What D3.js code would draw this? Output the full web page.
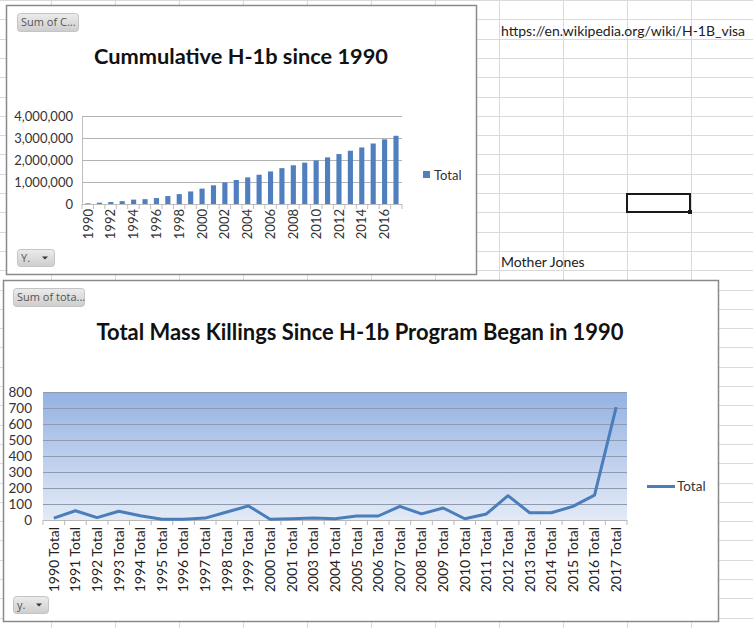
<!DOCTYPE html>
<html>
<head>
<meta charset="utf-8">
<script src="https://cdn.jsdelivr.net/npm/d3@7"></script>
<style>
  html, body { margin: 0; padding: 0; background: #fff; }
  svg { display: block; font-family: Lato, "Open Sans", sans-serif; }
</style>
</head>
<body>
<svg id="chart" width="753" height="628"></svg>
<script>
// ---------- DATA ----------
const h1bYears = [1990,1991,1992,1993,1994,1995,1996,1997,1998,1999,2000,2001,2002,2003,2004,2005,2006,2007,2008,2009,2010,2011,2012,2013,2014,2015,2016,2017];
const h1bCumulative = [30000,60000,90000,130000,200000,220000,270000,360000,450000,570000,700000,850000,980000,1090000,1210000,1330000,1480000,1630000,1760000,1880000,1980000,2120000,2270000,2420000,2570000,2750000,2940000,3100000];
const h1bTicks = [0,1000000,2000000,3000000,4000000];

const killYears = ["1990 Total","1991 Total","1992 Total","1993 Total","1994 Total","1995 Total","1996 Total","1997 Total","1998 Total","1999 Total","2000 Total","2001 Total","2003 Total","2004 Total","2005 Total","2006 Total","2007 Total","2008 Total","2009 Total","2010 Total","2011 Total","2012 Total","2013 Total","2014 Total","2015 Total","2016 Total","2017 Total"];
const killTotals = [12,58,15,55,27,5,5,12,50,88,5,8,12,8,25,25,85,38,75,8,38,152,45,45,85,155,705];
const killTicks = [0,100,200,300,400,500,600,700,800];

const titleTop = "Cummulative H-1b since 1990";
const titleBottom = "Total Mass Killings Since H-1b Program Began in 1990";
const seriesName = "Total";
const sheetUrl = "https://en.wikipedia.org/wiki/H-1B_visa";
const sheetNote = "Mother Jones";

// ---------- SETUP ----------
const svg = d3.select("#chart");
const W = 753, H = 628;
const barColor = "#4f7fbf";
const lineColor = "#4a7ebb";

// sheet grid
const colXs = d3.range(51, W, 64);
const rowYs = d3.range(0, H, 19.3);
const grid = svg.append("g");
grid.selectAll("line.v").data(colXs).join("line")
  .attr("x1", d => Math.round(d) + 0.5).attr("x2", d => Math.round(d) + 0.5)
  .attr("y1", 0).attr("y2", H).attr("stroke", "#dadada");
grid.selectAll("line.h").data(rowYs).join("line")
  .attr("y1", d => Math.round(d) + 0.5).attr("y2", d => Math.round(d) + 0.5)
  .attr("x1", 0).attr("x2", W).attr("stroke", "#dadada");

// sheet texts
svg.append("text").attr("x", 501).attr("y", 36).attr("font-size", 14).attr("fill", "#222")
  .text(sheetUrl);
svg.append("text").attr("x", 501).attr("y", 267).attr("font-size", 14).attr("fill", "#222")
  .text(sheetNote);
// selected cell
svg.append("rect").attr("x", 627).attr("y", 194).attr("width", 63).attr("height", 18)
  .attr("fill", "none").attr("stroke", "#1a1a1a").attr("stroke-width", 2);
svg.append("rect").attr("x", 688).attr("y", 210).attr("width", 4).attr("height", 4).attr("fill", "#1a1a1a");

// gradients
const defs = svg.append("defs");
const bg = defs.append("linearGradient").attr("id", "btn").attr("x1", 0).attr("x2", 0).attr("y1", 0).attr("y2", 1);
bg.append("stop").attr("offset", 0).attr("stop-color", "#ececec");
bg.append("stop").attr("offset", 1).attr("stop-color", "#cdcdcd");
const pg = defs.append("linearGradient").attr("id", "plotbg").attr("x1", 0).attr("x2", 0).attr("y1", 0).attr("y2", 1);
pg.append("stop").attr("offset", 0).attr("stop-color", "#94b2e3");
pg.append("stop").attr("offset", 1).attr("stop-color", "#e3eaf6");

function button(g, x, y, w, h, label, arrow) {
  g.append("rect").attr("x", x + 0.5).attr("y", y + 0.5).attr("width", w).attr("height", h)
    .attr("rx", 3).attr("fill", "url(#btn)").attr("stroke", "#c4c4c4");
  g.append("text").attr("x", x + 4).attr("y", y + h / 2 + 4).attr("font-size", 11)
    .attr("fill", "#555").attr("font-family", "'Open Sans', sans-serif").text(label);
  if (arrow) {
    const ax = x + w - 12, ay = y + h / 2 - 1;
    g.append("path").attr("d", `M${ax},${ay} l6,0 l-3,3 z`).attr("fill", "#333");
  }
}

// ---------- TOP CHART ----------
const topG = svg.append("g");
topG.append("rect").attr("x", 6.5).attr("y", 5.5).attr("width", 470).attr("height", 269)
  .attr("fill", "#fff").attr("stroke", "#8a8a8a").attr("stroke-width", 1.5);
button(topG, 17, 13, 61, 18, "Sum of C...", false);
button(topG, 17, 249, 37, 17, "Y.", true);
topG.append("text").attr("x", 241).attr("y", 64).attr("text-anchor", "middle")
  .attr("font-size", 21).attr("font-weight", "bold").attr("fill", "#111")
  .attr("textLength", 294).attr("lengthAdjust", "spacingAndGlyphs").text(titleTop);

const x1 = d3.scaleBand().domain(h1bYears).range([82, 402]).paddingInner(0.55).paddingOuter(0.3);
const y1 = d3.scaleLinear().domain([0, 4000000]).range([204, 116]);

topG.append("g").selectAll("line").data(h1bTicks.slice(1)).join("line")
  .attr("x1", 82).attr("x2", 402).attr("y1", d => Math.round(y1(d)) + 0.5).attr("y2", d => Math.round(y1(d)) + 0.5)
  .attr("stroke", "#b3b3b3");

const yAx1 = topG.append("g").attr("transform", "translate(82,0)")
  .call(d3.axisLeft(y1).tickValues(h1bTicks).tickSize(0).tickPadding(9).tickFormat(d3.format(",")));
yAx1.select(".domain").attr("stroke", "#bdbdbd");
yAx1.selectAll("text").attr("font-size", 13).attr("fill", "#333").attr("font-family", "Lato, sans-serif");

topG.append("g").selectAll("rect").data(h1bYears).join("rect")
  .attr("x", (d) => x1(d)).attr("width", x1.bandwidth())
  .attr("y", (d, i) => y1(h1bCumulative[i])).attr("height", (d, i) => y1(0) - y1(h1bCumulative[i]))
  .attr("fill", barColor);

const xAx1 = topG.append("g").attr("transform", "translate(0,204)")
  .call(d3.axisBottom(x1).tickSize(0).tickPadding(5).tickFormat(d => (d % 2 === 0 ? String(d) : "")));
xAx1.select(".domain").remove();
xAx1.selectAll("text").attr("font-size", 13).attr("fill", "#333").attr("font-family", "Lato, sans-serif")
  .attr("transform", "rotate(-90)").attr("text-anchor", "end").attr("dy", "0.35em").attr("x", -5).attr("y", 0);
const b1 = d3.range(h1bYears.length + 1).map(i => 82 + i * (320 / h1bYears.length));
topG.append("line").attr("x1", 82).attr("x2", 402).attr("y1", 204.5).attr("y2", 204.5).attr("stroke", "#bdbdbd");
topG.append("g").selectAll("line").data(b1).join("line")
  .attr("x1", d => d).attr("x2", d => d).attr("y1", 204).attr("y2", 209).attr("stroke", "#bdbdbd");

// legend
topG.append("rect").attr("x", 423).attr("y", 171).attr("width", 7).attr("height", 7).attr("fill", barColor);
topG.append("text").attr("x", 434).attr("y", 180).attr("font-size", 13).attr("fill", "#333").text(seriesName);

// ---------- BOTTOM CHART ----------
const botG = svg.append("g");
botG.append("rect").attr("x", 3.5).attr("y", 280.5).attr("width", 715).attr("height", 341)
  .attr("fill", "#fff").attr("stroke", "#8a8a8a").attr("stroke-width", 1.5);
button(botG, 13, 288, 71, 18, "Sum of tota...", false);
button(botG, 13, 596, 35, 17, "y.", true);
botG.append("text").attr("x", 360).attr("y", 340).attr("text-anchor", "middle")
  .attr("font-size", 23).attr("font-weight", "bold").attr("fill", "#111")
  .attr("textLength", 527).attr("lengthAdjust", "spacingAndGlyphs").text(titleBottom);

const x2 = d3.scaleBand().domain(killYears).range([43, 627]);
const y2 = d3.scaleLinear().domain([0, 800]).range([520, 392]);

botG.append("rect").attr("x", 43).attr("y", 392).attr("width", 584).attr("height", 128).attr("fill", "url(#plotbg)");
botG.append("g").selectAll("line").data(killTicks.slice(1)).join("line")
  .attr("x1", 43).attr("x2", 627).attr("y1", d => Math.round(y2(d)) + 0.5).attr("y2", d => Math.round(y2(d)) + 0.5)
  .attr("stroke", "#8e9ab0");

const yAx2 = botG.append("g").attr("transform", "translate(43,0)")
  .call(d3.axisLeft(y2).tickValues(killTicks).tickSize(0).tickPadding(11));
yAx2.select(".domain").remove();
yAx2.selectAll("text").attr("font-size", 13.5).attr("fill", "#333").attr("font-family", "Lato, sans-serif");

const xAx2 = botG.append("g").attr("transform", "translate(0,520)")
  .call(d3.axisBottom(x2).tickSize(0).tickPadding(5));
xAx2.select(".domain").remove();
xAx2.selectAll("text").attr("font-size", 14).attr("fill", "#222").attr("font-family", "Lato, sans-serif")
  .attr("transform", "rotate(-90)").attr("text-anchor", "end").attr("dy", "0.35em").attr("x", -7).attr("y", 0);
botG.append("line").attr("x1", 43).attr("x2", 627).attr("y1", 520.5).attr("y2", 520.5).attr("stroke", "#b8b8b8");
const b2 = d3.range(killYears.length + 1).map(i => x2.range()[0] + i * x2.step());
botG.append("g").selectAll("line").data(b2).join("line")
  .attr("x1", d => d).attr("x2", d => d).attr("y1", 520).attr("y2", 525).attr("stroke", "#b8b8b8");

const line = d3.line().x((d, i) => x2(killYears[i]) + x2.bandwidth() / 2).y(d => y2(d));
botG.append("path").datum(killTotals).attr("d", line).attr("fill", "none")
  .attr("stroke", lineColor).attr("stroke-width", 3).attr("stroke-linejoin", "round");

// legend
botG.append("line").attr("x1", 647).attr("x2", 675).attr("y1", 486.5).attr("y2", 486.5)
  .attr("stroke", lineColor).attr("stroke-width", 3);
botG.append("text").attr("x", 677).attr("y", 491).attr("font-size", 13.5).attr("fill", "#333").text(seriesName);
</script>
</body>
</html>
